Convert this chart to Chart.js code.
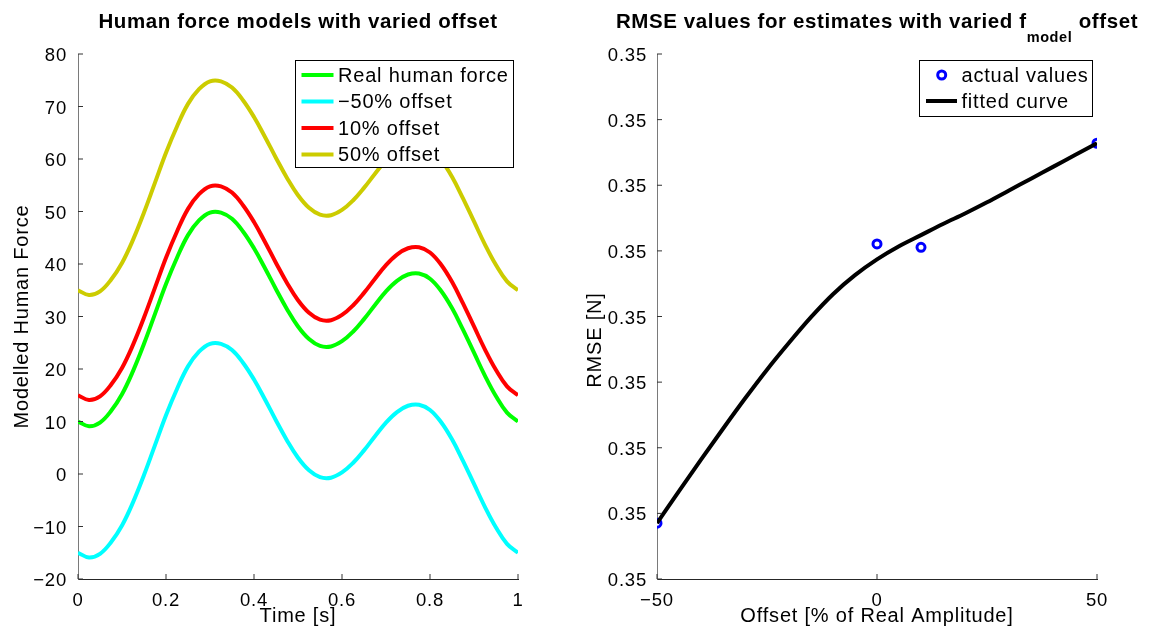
<!DOCTYPE html>
<html><head><meta charset="utf-8">
<script src="https://cdn.jsdelivr.net/npm/chart.js@4/dist/chart.umd.min.js"></script>
<style>
html,body{margin:0;padding:0;background:#fff;overflow:hidden;}
#w1{position:absolute;left:0;top:0;width:575px;height:632px;}
#w2{position:absolute;left:575px;top:0;width:574px;height:632px;}
canvas{display:block;}
</style></head><body>
<div id="w1"><canvas id="c1" width="575" height="632"></canvas></div><div id="w2"><canvas id="c2" width="574" height="632"></canvas></div>
<script>
// ---------- data: left panel ----------
const timeValues = [0, 0.025, 0.05, 0.075, 0.1, 0.125, 0.15, 0.175, 0.2, 0.225, 0.25, 0.275, 0.3, 0.325, 0.35, 0.375, 0.4, 0.425, 0.45, 0.475, 0.5, 0.525, 0.55, 0.575, 0.6, 0.625, 0.65, 0.675, 0.7, 0.725, 0.75, 0.775, 0.8, 0.825, 0.85, 0.875, 0.9, 0.925, 0.95, 0.975, 1];
const realForce = [10.0, 9.1, 9.8, 12.0, 15.2, 19.6, 24.8, 30.5, 36.2, 41.2, 45.5, 48.3, 49.8, 49.8, 48.6, 46.2, 43.0, 39.2, 35.2, 31.4, 28.1, 25.7, 24.4, 24.3, 25.3, 27.1, 29.5, 32.2, 34.8, 36.8, 38.0, 38.2, 37.2, 34.9, 31.6, 27.5, 23.1, 18.7, 14.8, 11.7, 10.0];
const offsetMinus50 = [-15.0, -15.9, -15.2, -13.0, -9.8, -5.4, -0.2, 5.5, 11.2, 16.2, 20.5, 23.3, 24.8, 24.8, 23.6, 21.2, 18.0, 14.2, 10.2, 6.4, 3.1, 0.7, -0.6, -0.7, 0.3, 2.1, 4.5, 7.2, 9.8, 11.8, 13.0, 13.2, 12.2, 9.9, 6.6, 2.5, -1.9, -6.3, -10.2, -13.3, -15.0];
const offset10 = [15.0, 14.1, 14.8, 17.0, 20.2, 24.6, 29.8, 35.5, 41.2, 46.2, 50.5, 53.3, 54.8, 54.8, 53.6, 51.2, 48.0, 44.2, 40.2, 36.4, 33.1, 30.7, 29.4, 29.3, 30.3, 32.1, 34.5, 37.2, 39.8, 41.8, 43.0, 43.2, 42.2, 39.9, 36.6, 32.5, 28.1, 23.7, 19.8, 16.7, 15.0];
const offset50 = [35.0, 34.1, 34.8, 37.0, 40.2, 44.6, 49.8, 55.5, 61.2, 66.2, 70.5, 73.3, 74.8, 74.8, 73.6, 71.2, 68.0, 64.2, 60.2, 56.4, 53.1, 50.7, 49.4, 49.3, 50.3, 52.1, 54.5, 57.2, 59.8, 61.8, 63.0, 63.2, 62.2, 59.9, 56.6, 52.5, 48.1, 43.7, 39.8, 36.7, 35.0];
const leftSeriesNames = ['Real human force', '\u221250% offset', '10% offset', '50% offset'];
const leftXTicks = [0, 0.2, 0.4, 0.6, 0.8, 1];
const leftYTicks = [-20, -10, 0, 10, 20, 30, 40, 50, 60, 70, 80];

// ---------- data: right panel ----------
const offsetsActual = [-50, 0, 10, 50];
const rmseActual = [0.349170, 0.350021, 0.350011, 0.350328];
const offsetsFit = [-50, -45, -40, -35, -30, -25, -20, -15, -10, -5, 0, 5, 10, 15, 20, 25, 30, 35, 40, 45, 50];
const rmseFit = [0.349170, 0.349268, 0.349364, 0.349458, 0.349550, 0.349638, 0.349720, 0.349798, 0.349868, 0.349926, 0.349974, 0.350014, 0.350048, 0.350082, 0.350114, 0.350148, 0.350184, 0.350220, 0.350256, 0.350292, 0.350328];
const rightSeriesNames = ['actual values', 'fitted curve'];
const rightXTicks = [-50, 0, 50];
const rightYTicks = [0.3490, 0.3492, 0.3494, 0.3496, 0.3498, 0.3500, 0.3502, 0.3504, 0.3506];

const FONT = "'Liberation Sans', Arial, Helvetica, sans-serif";
const SPACING = '0.8px';
Chart.defaults.font.family = FONT;
Chart.defaults.color = '#000';

const minusFmt = v => String(v).replace('-', '\u2212');

// ---------- plugins ----------
const spacingPlugin = {
  id: 'spacing',
  beforeUpdate(chart) { chart.ctx.letterSpacing = SPACING; },
  beforeLayout(chart) { chart.ctx.letterSpacing = SPACING; },
  beforeDraw(chart) { chart.ctx.letterSpacing = SPACING; }
};

const titlePlugin = {
  id: 'richTitle',
  afterDraw(chart, args, o) {
    const ctx = chart.ctx, a = chart.chartArea;
    ctx.save();
    ctx.letterSpacing = o.spacing;
    ctx.fillStyle = '#000';
    ctx.textBaseline = 'alphabetic';
    ctx.textAlign = 'left';
    let total = 0;
    const w = o.parts.map(p => { ctx.font = 'bold ' + (p.sub ? o.subSize : o.size) + 'px ' + FONT; const m = ctx.measureText(p.text).width; total += m; return m; });
    let x = (a.left + a.right) / 2 - total / 2;
    o.parts.forEach((p, i) => {
      ctx.font = 'bold ' + (p.sub ? o.subSize : o.size) + 'px ' + FONT;
      ctx.fillText(p.text, x, p.sub ? o.subBaseline : o.baseline);
      x += w[i];
    });
    if (o.yTitle) {
      ctx.letterSpacing = SPACING;
      ctx.font = o.yTitle.size + 'px ' + FONT;
      ctx.textAlign = 'center';
      ctx.textBaseline = 'middle';
      ctx.translate(o.yTitle.x, o.yTitle.y);
      ctx.rotate(-Math.PI / 2);
      ctx.fillText(o.yTitle.text, 0, 0);
    }
    ctx.restore();
  }
};

const legendPlugin = {
  id: 'boxLegend',
  afterDatasetsDraw(chart, args, o) {
    const ctx = chart.ctx;
    ctx.save();
    ctx.letterSpacing = SPACING;
    ctx.fillStyle = '#fff';
    ctx.fillRect(o.x, o.y, o.w, o.h);
    ctx.strokeStyle = '#000';
    ctx.lineWidth = 1;
    ctx.strokeRect(o.x + 0.5, o.y + 0.5, o.w, o.h);
    ctx.font = o.fontSize + 'px ' + FONT;
    ctx.textBaseline = 'middle';
    ctx.textAlign = 'left';
    o.items.forEach((idx, row) => {
      const ds = chart.data.datasets[idx];
      const y = o.y + o.first + row * o.gap;
      if (ds.showLine === false) {
        ctx.beginPath();
        ctx.arc(o.markerX, y, ds.pointRadius, 0, Math.PI * 2);
        ctx.fillStyle = ds.pointBackgroundColor;
        ctx.fill();
        ctx.lineWidth = ds.pointBorderWidth;
        ctx.strokeStyle = ds.pointBorderColor;
        ctx.stroke();
      } else {
        ctx.beginPath();
        ctx.moveTo(o.lineX0, y);
        ctx.lineTo(o.lineX1, y);
        ctx.lineWidth = 4;
        ctx.strokeStyle = ds.borderColor;
        ctx.stroke();
      }
      ctx.fillStyle = '#000';
      ctx.fillText(ds.label, o.textX, y + 1);
    });
    ctx.restore();
  }
};

const tickPlugin = {
  id: 'inwardTicks',
  afterDraw(chart, args, o) {
    const ctx = chart.ctx, a = chart.chartArea, xs = chart.scales.x, ys = chart.scales.y;
    ctx.save();
    ctx.strokeStyle = '#333';
    ctx.lineWidth = 1;
    ctx.beginPath();
    xs.ticks.forEach(t => { const px = xs.getPixelForValue(t.value); ctx.moveTo(px, a.bottom); ctx.lineTo(px, a.bottom - o.lenY); });
    ys.ticks.forEach(t => { const py = ys.getPixelForValue(t.value); ctx.moveTo(a.left, py); ctx.lineTo(a.left + o.lenX, py); });
    ctx.stroke();
    ctx.restore();
  }
};

function makeScales(cfg) {
  return {
    x: {
      type: 'linear', position: 'bottom', min: cfg.xMin, max: cfg.xMax,
      afterBuildTicks: s => { s.ticks = cfg.xTicks.map(v => ({ value: v })); },
      afterFit: s => { s.height = cfg.xHeight; },
      grid: { display: false },
      border: { display: true, color: '#262626', width: 1 },
      ticks: { font: { size: 18.5 }, color: '#000', padding: 2.5, maxRotation: 0, autoSkip: false, callback: cfg.xFmt },
      title: { display: true, text: cfg.xTitle, font: { size: 20 }, color: '#000', padding: { top: 0, bottom: 3.5 } }
    },
    y: {
      type: 'linear', position: 'left', min: cfg.yMin, max: cfg.yMax,
      afterBuildTicks: s => { s.ticks = cfg.yTicks.map(v => ({ value: v })); },
      afterFit: s => { s.width = cfg.yWidth; },
      grid: { display: false },
      border: { display: true, color: '#7a7a7a', width: 1 },
      ticks: { font: { size: 18.5 }, color: '#000', padding: cfg.yPad, labelOffset: 2, autoSkip: false, callback: cfg.yFmt },
      title: { display: cfg.yTitle !== '', text: cfg.yTitle, font: { size: 20 }, color: '#000', padding: { top: cfg.yTitlePad, bottom: 0 } }
    }
  };
}

const lineDs = (label, ys, color) => ({
  label, data: timeValues.map((t, i) => ({ x: t, y: ys[i] })),
  borderColor: color, backgroundColor: color, borderWidth: 4, pointRadius: 0, tension: 0.4, fill: false
});

new Chart(document.getElementById('c1'), {
  type: 'line',
  data: {
    datasets: [
      lineDs(leftSeriesNames[3], offset50, '#cccc00'),
      lineDs(leftSeriesNames[2], offset10, '#ff0000'),
      lineDs(leftSeriesNames[1], offsetMinus50, '#00ffff'),
      lineDs(leftSeriesNames[0], realForce, '#00ff00')
    ]
  },
  plugins: [spacingPlugin, tickPlugin, legendPlugin, titlePlugin],
  options: {
    responsive: false, animation: false, devicePixelRatio: 1,
    layout: { padding: { left: 0, right: 57, top: 54, bottom: 0 } },
    scales: makeScales({
      xMin: 0, xMax: 1, xTicks: leftXTicks, xHeight: 53, xFmt: v => String(v), xTitle: 'Time [s]',
      yMin: -20, yMax: 80, yTicks: leftYTicks, yWidth: 78, yPad: 3, yFmt: minusFmt, yTitle: 'Modelled Human Force', yTitlePad: 10
    }),
    plugins: {
      legend: { display: false }, title: { display: false }, tooltip: { enabled: false },
      inwardTicks: { lenX: 5, lenY: 5 },
      boxLegend: { x: 295, y: 60, w: 218, h: 107, first: 15, gap: 26.5, fontSize: 20,
        lineX0: 301.5, lineX1: 333.5, textX: 338, markerX: 0, items: [3, 2, 1, 0] },
      richTitle: { parts: [{ text: 'Human force models with varied offset' }], size: 20.5, subSize: 14.5, baseline: 28, subBaseline: 42, spacing: '0.6px' }
    }
  }
});

new Chart(document.getElementById('c2'), {
  type: 'line',
  data: {
    datasets: [
      { label: rightSeriesNames[0], data: offsetsActual.map((x, i) => ({ x, y: rmseActual[i] })), showLine: false,
        pointRadius: 4, pointBorderWidth: 3, pointBorderColor: '#0000ff', pointBackgroundColor: '#ffffff',
        borderColor: '#0000ff', backgroundColor: '#ffffff', order: 1 },
      { label: rightSeriesNames[1], data: offsetsFit.map((x, i) => ({ x, y: rmseFit[i] })),
        borderColor: '#000000', backgroundColor: '#000000', borderWidth: 4, pointRadius: 0, cubicInterpolationMode: 'monotone', order: 0 }
    ]
  },
  plugins: [spacingPlugin, tickPlugin, legendPlugin, titlePlugin],
  options: {
    responsive: false, animation: false, devicePixelRatio: 1,
    layout: { padding: { left: 0, right: 52, top: 54, bottom: 0 } },
    scales: makeScales({
      xMin: -50, xMax: 50, xTicks: rightXTicks, xHeight: 53, xFmt: minusFmt, xTitle: 'Offset [% of Real Amplitude]',
      yMin: 0.3490, yMax: 0.3506, yTicks: rightYTicks, yWidth: 82, yPad: 2, yFmt: v => v.toFixed(2), yTitle: '', yTitlePad: 0
    }),
    plugins: {
      legend: { display: false }, title: { display: false }, tooltip: { enabled: false },
      inwardTicks: { lenX: 5, lenY: 5 },
      boxLegend: { x: 344, y: 60, w: 173, h: 56, first: 15, gap: 26, fontSize: 20,
        lineX0: 351, lineX1: 382, textX: 386.5, markerX: 366.7, items: [0, 1] },
      richTitle: { parts: [{ text: 'RMSE values for estimates with varied f' }, { text: 'model', sub: true }, { text: ' offset' }],
        size: 20.5, subSize: 14.5, baseline: 28, subBaseline: 42, spacing: '0.6px',
        yTitle: { text: 'RMSE [N]', size: 20, x: 20, y: 340 } }
    }
  }
});
</script>
</body></html>
